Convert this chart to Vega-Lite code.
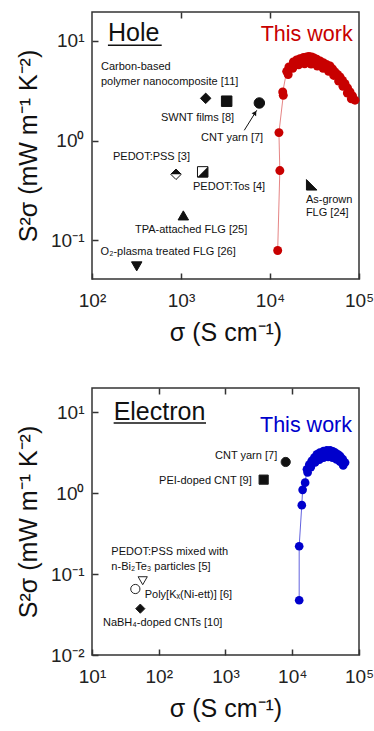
{
"$schema":"https://vega.github.io/schema/vega-lite/v6.json",
"padding":{"left":15,"top":10,"right":0,"bottom":0},
"spacing":40,
"datasets":{
"holeCurve":[{"s":12200,"p":0.0787},{"s":12900,"p":0.499},{"s":12600,"p":1.2},{"s":14100,"p":2.84},{"s":13900,"p":3.07},{"s":15400,"p":4.95},{"s":16300,"p":5.48},{"s":18300,"p":6.15},{"s":19900,"p":6.44},{"s":21700,"p":6.64},{"s":23800,"p":6.82},{"s":25800,"p":6.9},{"s":27400,"p":6.98},{"s":29400,"p":6.9},{"s":31200,"p":6.75},{"s":33500,"p":6.55},{"s":36500,"p":6.3},{"s":39700,"p":6.05},{"s":43100,"p":5.81},{"s":47200,"p":5.61},{"s":50400,"p":5.24},{"s":53700,"p":4.88},{"s":57300,"p":4.6},{"s":61200,"p":4.35},{"s":65300,"p":4.01},{"s":69600,"p":3.72},{"s":74300,"p":3.37},{"s":79300,"p":3.07},{"s":84600,"p":2.8},{"s":90200,"p":2.54},{"s":82000,"p":2.62},{"s":74000,"p":3.0},{"s":66000,"p":3.5},{"s":59000,"p":3.95},{"s":52000,"p":4.5},{"s":45500,"p":4.95},{"s":39500,"p":5.3},{"s":34000,"p":5.6},{"s":29000,"p":5.85},{"s":24500,"p":5.9},{"s":21000,"p":5.75},{"s":18000,"p":5.3},{"s":16000,"p":4.6}],
"holeRefs":[{"ref":"[11]","s":1894,"p":2.65},{"ref":"[8]","s":3260,"p":2.48},{"ref":"[7]","s":7590,"p":2.38},{"ref":"[3]","s":879,"p":0.458},{"ref":"[4]","s":1754,"p":0.484},{"ref":"[25]","s":1062,"p":0.177},{"ref":"[26]","s":318,"p":0.0545},{"ref":"[24]","s":29400,"p":0.359}],
"holeLabels":[{"label":"Carbon-based","s":126,"p":5.11},{"label":"polymer nanocomposite [11]","s":126,"p":3.64},{"label":"SWNT films [8]","s":595,"p":1.57},{"label":"CNT yarn [7]","s":1679,"p":0.988},{"label":"PEDOT:PSS [3]","s":172,"p":0.637},{"label":"PEDOT:Tos [4]","s":1365,"p":0.318},{"label":"As-grown","s":25300,"p":0.237},{"label":"FLG [24]","s":25300,"p":0.174},{"label":"TPA-attached FLG [25]","s":304,"p":0.118},{"label":"O₂-plasma treated FLG [26]","s":125,"p":0.0706}],
"elecCurve":[{"s":12700,"p":0.0475},{"s":12700,"p":0.221},{"s":13900,"p":0.711},{"s":14300,"p":1.1},{"s":15600,"p":1.35},{"s":16600,"p":1.97},{"s":18000,"p":2.25},{"s":19600,"p":2.51},{"s":21400,"p":2.75},{"s":23400,"p":3.02},{"s":25900,"p":3.17},{"s":29400,"p":3.32},{"s":33000,"p":3.38},{"s":36900,"p":3.38},{"s":40500,"p":3.3},{"s":43900,"p":3.17},{"s":48200,"p":3.03},{"s":52200,"p":2.88},{"s":57200,"p":2.63},{"s":61900,"p":2.39},{"s":58000,"p":2.2},{"s":52000,"p":2.45},{"s":46000,"p":2.62},{"s":40000,"p":2.75},{"s":34500,"p":2.8},{"s":29500,"p":2.75},{"s":25500,"p":2.6},{"s":22000,"p":2.4},{"s":19000,"p":2.1},{"s":17000,"p":1.8}],
"elecRefs":[{"ref":"[7]","s":7980,"p":2.43},{"ref":"[9]","s":3730,"p":1.47},{"ref":"[5]","s":57.5,"p":0.0828},{"ref":"[6]","s":44.6,"p":0.0654},{"ref":"[10]","s":52.9,"p":0.0374}],
"elecLabels":[{"label":"CNT yarn [7]","s":697,"p":2.67},{"label":"PEI-doped CNT [9]","s":101,"p":1.3},{"label":"PEDOT:PSS mixed with","s":19.5,"p":0.171},{"label":"n-Bi₂Te₃ particles [5]","s":19.5,"p":0.113},{"label":"Poly[Kₓ(Ni-ett)] [6]","s":61.6,"p":0.0507},{"label":"NaBH₄-doped CNTs [10]","s":14.6,"p":0.0228}]
},
"vconcat":[
{
"width":267,"height":267,
"encoding":{
"x":{"field":"s","type":"quantitative","scale":{"type":"log","domain":[100,100000],"nice":false},"axis":null},
"y":{"field":"p","type":"quantitative","scale":{"type":"log","domain":[0.0407,19.5],"nice":false},"axis":{"values":[0.1,1,10],"labelExpr":"'10' + ['⁻²','⁻¹','⁰','¹','²','³','⁴','⁵'][round(log(datum.value)/LN10)+2]","title":"S²σ (mW m⁻¹ K⁻²)","labelPadding":14,"titlePadding":9}}
},
"layer":[
{"data":{"name":"holeCurve"},"mark":{"type":"line","color":"#d02020","strokeWidth":1,"opacity":0.55},
 "encoding":{"x":{"field":"s","type":"quantitative","scale":{"type":"log","domain":[100,100000],"nice":false},"axis":{"orient":"bottom","values":[100,1000,10000,100000],"labelExpr":"'10' + ['⁻²','⁻¹','⁰','¹','²','³','⁴','⁵'][round(log(datum.value)/LN10)+2]","title":"σ (S cm⁻¹)","labelPadding":18,"titlePadding":10}},"order":{"value":null}}},
{"data":{"name":"holeCurve"},"mark":{"type":"point","shape":"circle","filled":true,"color":"#c80000","size":80,"opacity":1},
 "encoding":{"x":{"field":"s","type":"quantitative","scale":{"type":"log","domain":[100,100000],"nice":false},"axis":{"orient":"top","values":[1000,10000],"labels":false,"title":null}}}},
{"data":{"name":"holeRefs"},"mark":{"type":"point","filled":true,"stroke":"#111","strokeWidth":1,"size":110,"opacity":1},
 "encoding":{"shape":{"field":"ref","type":"nominal","scale":{"domain":["[11]","[8]","[7]","[3]","[4]","[25]","[26]","[24]"],"range":["diamond","square","circle","diamond","square","triangle-up","triangle-down","M -1 -1 L 1 1 L -1 1 Z"]},"legend":null},
  "fill":{"field":"ref","type":"nominal","scale":{"domain":["[11]","[8]","[7]","[3]","[4]","[25]","[26]","[24]"],"range":["#111","#111","#111","white","white","#111","#111","#111"]},"legend":null}}},
{"data":{"name":"holeRefs"},"transform":[{"filter":"datum.ref == '[3]'"}],"mark":{"type":"point","shape":"M -1 0 L 0 -1 L 1 0 Z","filled":true,"color":"#111","size":110,"opacity":1}},
{"data":{"name":"holeRefs"},"transform":[{"filter":"datum.ref == '[4]'"}],"mark":{"type":"point","shape":"M 1 -1 L 1 1 L -1 1 Z","filled":true,"color":"#111","size":110,"opacity":1}},
{"data":{"values":[{"s":5140,"p":1.266,"s2":7100,"p2":2.012}]},"mark":{"type":"rule","color":"#111","strokeWidth":1},"encoding":{"x2":{"field":"s2"},"y2":{"field":"p2"}}},
{"data":{"values":[{"s":6800,"p":1.896}]},"mark":{"type":"point","shape":"triangle-up","angle":32,"filled":true,"color":"#111","size":28,"opacity":1}},
{"data":{"name":"holeLabels"},"mark":{"type":"text","align":"left","baseline":"alphabetic","font":"Liberation Sans","fontSize":11,"color":"#111"},"encoding":{"text":{"field":"label"}}},
{"data":{"values":[{"label":"Hole","s":151,"p":10}]},"mark":{"type":"text","align":"left","baseline":"alphabetic","font":"Liberation Sans","fontSize":25,"color":"#111"},"encoding":{"text":{"field":"label"}}},
{"data":{"values":[{"s":151,"p":9.06,"s2":607,"p2":9.06}]},"mark":{"type":"rule","color":"#111","strokeWidth":1.5},"encoding":{"x2":{"field":"s2"},"y2":{"field":"p2"}}},
{"data":{"values":[{"label":"This work","s":7870,"p":10}]},"mark":{"type":"text","align":"left","baseline":"alphabetic","font":"Liberation Sans","fontSize":21.5,"color":"#c80000"},"encoding":{"text":{"field":"label"}}}
],
"resolve":{"axis":{"x":"independent"}}
},
{
"width":267,"height":267,
"encoding":{
"x":{"field":"s","type":"quantitative","scale":{"type":"log","domain":[10,100000],"nice":false},"axis":null},
"y":{"field":"p","type":"quantitative","scale":{"type":"log","domain":[0.01,19.95],"nice":false},"axis":{"values":[0.01,0.1,1,10],"labelExpr":"'10' + ['⁻²','⁻¹','⁰','¹','²','³','⁴','⁵'][round(log(datum.value)/LN10)+2]","title":"S²σ (mW m⁻¹ K⁻²)","labelPadding":14,"titlePadding":9}}
},
"layer":[
{"data":{"name":"elecCurve"},"mark":{"type":"line","color":"#2020d0","strokeWidth":1,"opacity":0.7},
 "encoding":{"x":{"field":"s","type":"quantitative","scale":{"type":"log","domain":[10,100000],"nice":false},"axis":{"orient":"bottom","values":[10,100,1000,10000,100000],"labelExpr":"'10' + ['⁻²','⁻¹','⁰','¹','²','³','⁴','⁵'][round(log(datum.value)/LN10)+2]","title":"σ (S cm⁻¹)","labelPadding":18,"titlePadding":10}},"order":{"value":null}}},
{"data":{"name":"elecCurve"},"mark":{"type":"point","shape":"circle","filled":true,"color":"#0000cc","size":75,"opacity":1},
 "encoding":{"x":{"field":"s","type":"quantitative","scale":{"type":"log","domain":[10,100000],"nice":false},"axis":{"orient":"top","values":[100,1000,10000],"labels":false,"title":null}}}},
{"data":{"name":"elecRefs"},"mark":{"type":"point","filled":true,"stroke":"#222","strokeWidth":1,"size":85,"opacity":1},
 "encoding":{"shape":{"field":"ref","type":"nominal","scale":{"domain":["[7]","[9]","[5]","[6]","[10]"],"range":["circle","square","triangle-down","circle","diamond"]},"legend":null},
  "fill":{"field":"ref","type":"nominal","scale":{"domain":["[7]","[9]","[5]","[6]","[10]"],"range":["#111","#111","white","white","#111"]},"legend":null}}},
{"data":{"name":"elecLabels"},"mark":{"type":"text","align":"left","baseline":"alphabetic","font":"Liberation Sans","fontSize":11,"color":"#111"},"encoding":{"text":{"field":"label"}}},
{"data":{"values":[{"label":"Electron","s":21.1,"p":8.1}]},"mark":{"type":"text","align":"left","baseline":"alphabetic","font":"Liberation Sans","fontSize":25,"color":"#111"},"encoding":{"text":{"field":"label"}}},
{"data":{"values":[{"s":21.1,"p":7.38,"s2":511,"p2":7.38}]},"mark":{"type":"rule","color":"#111","strokeWidth":1.5},"encoding":{"x2":{"field":"s2"},"y2":{"field":"p2"}}},
{"data":{"values":[{"label":"This work","s":3290,"p":5.66}]},"mark":{"type":"text","align":"left","baseline":"alphabetic","font":"Liberation Sans","fontSize":21.5,"color":"#0000cc"},"encoding":{"text":{"field":"label"}}}
],
"resolve":{"axis":{"x":"independent"}}
}
],
"resolve":{"scale":{"x":"independent","y":"independent","shape":"independent","fill":"independent"}},
"config":{
"view":{"stroke":"#333","strokeWidth":1.5},
"font":"Liberation Sans",
"axis":{"grid":false,"domain":false,"ticks":true,"tickColor":"#333","tickWidth":1.5,"tickSize":-6,"labelFont":"Liberation Sans","labelFontSize":19,"labelColor":"#222","titleFont":"Liberation Sans","titleFontSize":25,"titleFontWeight":"normal","titleColor":"#111","labelFlush":false,"labelOverlap":false,"labelBound":false}
}
}
